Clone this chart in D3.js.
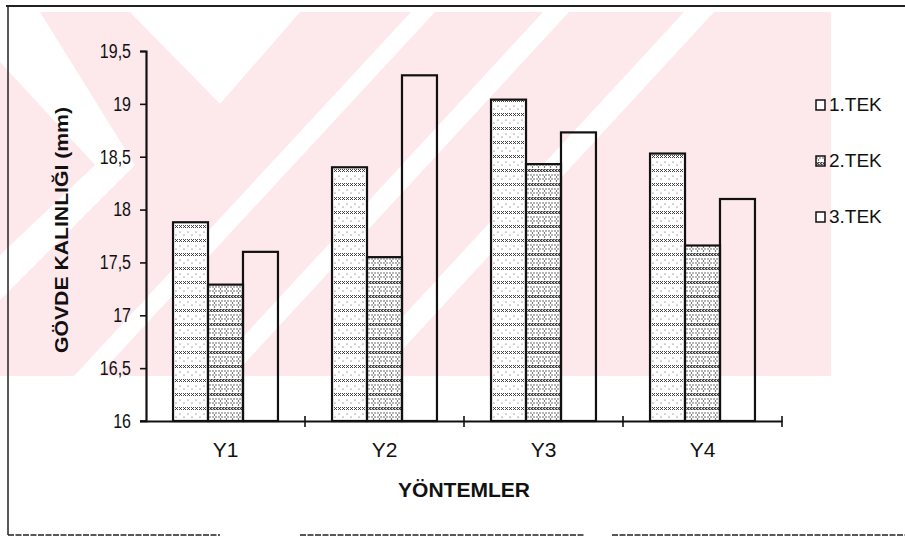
<!DOCTYPE html>
<html>
<head>
<meta charset="utf-8">
<script src="https://cdn.jsdelivr.net/npm/d3@7"></script>
<style>
  html, body { margin: 0; padding: 0; background: #fff; }
  svg { display: block; }
  text { font-family: "Liberation Sans", Arial, sans-serif; fill: #111; }
  .bold { font-weight: bold; }
</style>
</head>
<body>
<svg id="chart" width="905" height="542"></svg>
<script>
// Methods (x categories) and the three techniques (series)
const categories = ["Y1", "Y2", "Y3", "Y4"];
const seriesNames = ["1.TEK", "2.TEK", "3.TEK"];
const tek1 = [17.88, 18.40, 19.04, 18.53];
const tek2 = [17.29, 17.55, 18.43, 17.66];
const tek3 = [17.60, 19.27, 18.73, 18.10];
const yTicks = [16, 16.5, 17, 17.5, 18, 18.5, 19, 19.5];
const yDomain = [16, 19.5];
const yTitle = "GÖVDE KALINLIĞI (mm)";
const xTitle = "YÖNTEMLER";

const seriesValues = [tek1, tek2, tek3];
const rows = categories.map((c, i) => ({
  cat: c,
  vals: seriesNames.map((s, j) => ({ key: s, value: seriesValues[j][i] }))
}));

const svg = d3.select("#chart");
const plot = { left: 146, right: 782, top: 51, bottom: 421 };
const defs = svg.append("defs");

// ---- pale background emblem band ----
defs.append("clipPath").attr("id", "wmclip")
  .append("rect").attr("x", 0).attr("y", 12).attr("width", 831).attr("height", 364);
const wmg = svg.append("g").attr("clip-path", "url(#wmclip)");
wmg.append("rect").attr("x", 0).attr("y", 12).attr("width", 831).attr("height", 364)
  .attr("fill", "#fde8ec");
const whiteShapes = [
  [[0,12],[40,12],[135,165],[0,300],[0,255],[95,165],[0,62]],
  [[130,12],[300,12],[220,104]],
  [[411,12],[435,12],[98,376],[74,376]],
  [[543,12],[569,12],[233,376],[207,376]],
  [[684,12],[714,12],[378,376],[348,376]]
];
wmg.selectAll("polygon").data(whiteShapes).join("polygon")
  .attr("points", d => d.map(p => p.join(",")).join(" "))
  .attr("fill", "#ffffff");

// ---- frame ----
const frame = svg.append("g").attr("stroke", "#222").attr("fill", "none");
frame.append("line").attr("x1", 6).attr("x2", 905).attr("y1", 6).attr("y2", 6).attr("stroke-width", 2);
frame.append("line").attr("x1", 8).attr("x2", 8).attr("y1", 6).attr("y2", 535).attr("stroke-width", 1.5);
[[8, 220], [300, 584], [612, 905]].forEach(([a, b]) =>
  frame.append("line").attr("x1", a).attr("x2", b).attr("y1", 535).attr("y2", 535)
    .attr("stroke-width", 1.5).attr("stroke-dasharray", "6,1.5"));

// ---- fill patterns ----
const p1 = defs.append("pattern").attr("id", "pat1").attr("patternUnits", "userSpaceOnUse")
  .attr("width", 8).attr("height", 14);
p1.append("rect").attr("width", 8).attr("height", 14).attr("fill", "#fff");
p1.append("path").attr("d", "M1,1 L4,4 M4,1 L1,4 M5,1 L8,4 M8,1 L5,4")
  .attr("stroke", "#333").attr("stroke-width", 0.9);
p1.append("circle").attr("cx", 2).attr("cy", 8).attr("r", 0.6).attr("fill", "#444");
p1.append("circle").attr("cx", 6).attr("cy", 11).attr("r", 0.6).attr("fill", "#444");

const p2 = defs.append("pattern").attr("id", "pat2").attr("patternUnits", "userSpaceOnUse")
  .attr("width", 6).attr("height", 14);
p2.append("rect").attr("width", 6).attr("height", 14).attr("fill", "#fff");
p2.append("path").attr("d", "M0.5,1 L3,4 M3,1 L0.5,4 M3.5,1 L6,4 M6,1 L3.5,4")
  .attr("stroke", "#222").attr("stroke-width", 1);
[[1,7],[4,7],[2.5,9],[1,11],[4,11],[2.5,13]].forEach(([cx, cy]) =>
  p2.append("circle").attr("cx", cx).attr("cy", cy).attr("r", 0.7).attr("fill", "#333"));

const fills = { "1.TEK": "url(#pat1)", "2.TEK": "url(#pat2)", "3.TEK": "none" };

// ---- scales ----
const x0 = d3.scaleBand().domain(categories).range([plot.left, plot.right]);
const bw = x0.bandwidth();
const x1 = d3.scaleBand().domain(seriesNames).range([bw * 0.17, bw * 0.83]);
const y = d3.scaleLinear().domain(yDomain).range([plot.bottom, plot.top]);

// ---- bars ----
const groups = svg.append("g").selectAll("g").data(rows).join("g")
  .attr("transform", d => `translate(${x0(d.cat)},0)`);
groups.selectAll("rect").data(d => d.vals).join("rect")
  .attr("x", d => x1(d.key))
  .attr("width", x1.bandwidth())
  .attr("y", d => y(d.value))
  .attr("height", d => y(yDomain[0]) - y(d.value))
  .attr("fill", d => fills[d.key])
  .attr("stroke", "#111")
  .attr("stroke-width", 2.2);

// ---- y axis ----
const comma = d3.formatLocale({ decimal: ",", thousands: ".", grouping: [3], currency: ["", ""] });
const yAxis = d3.axisLeft(y).tickValues(yTicks).tickFormat(comma.format("~g")).tickSize(6).tickPadding(0);
const gy = svg.append("g").attr("transform", `translate(${plot.left},0)`).call(yAxis);
gy.select(".domain").attr("stroke", "#111").attr("stroke-width", 2.2);
gy.selectAll(".tick line").attr("stroke", "#111").attr("stroke-width", 1.6);
gy.selectAll(".tick text")
  .attr("x", 0)
  .attr("transform", "translate(-15,0) scale(0.8,1)")
  .style("font-size", "20px").attr("fill", "#111");

// ---- x axis: labels at band centres, ticks at band edges ----
const xAxis = d3.axisBottom(x0).tickSize(0).tickPadding(21);
const gx = svg.append("g").attr("transform", `translate(0,${plot.bottom})`).call(xAxis);
gx.select(".domain").attr("stroke", "#111").attr("stroke-width", 2.2);
gx.selectAll(".tick text").style("font-size", "21px").attr("fill", "#111");
gx.selectAll("line.edge").data(categories).join("line").attr("class", "edge")
  .attr("x1", d => x0(d) + bw).attr("x2", d => x0(d) + bw)
  .attr("y1", -5).attr("y2", 6)
  .attr("stroke", "#111").attr("stroke-width", 1.6);
gx.append("line").attr("x1", plot.left - 6).attr("x2", plot.left).attr("y1", 0).attr("y2", 0)
  .attr("stroke", "#111").attr("stroke-width", 1.6);

// ---- axis titles ----
svg.append("text").attr("class", "bold")
  .attr("transform", `translate(63,${(plot.top + plot.bottom) / 2 - 6}) rotate(-90)`)
  .attr("text-anchor", "middle").attr("dominant-baseline", "middle")
  .attr("textLength", 246).attr("lengthAdjust", "spacingAndGlyphs")
  .style("font-size", "19px").text(yTitle);
svg.append("text").attr("class", "bold")
  .attr("x", (plot.left + plot.right) / 2).attr("y", 497)
  .attr("text-anchor", "middle")
  .attr("textLength", 132).attr("lengthAdjust", "spacingAndGlyphs")
  .style("font-size", "20px").text(xTitle);

// ---- legend ----
const legend = svg.append("g").selectAll("g").data(seriesNames).join("g")
  .attr("transform", (d, i) => `translate(816,${105 + i * 56})`);
legend.append("rect").attr("x", 0).attr("y", -5).attr("width", 9).attr("height", 10)
  .attr("fill", d => d === "2.TEK" ? "url(#pat2)" : "#fff")
  .attr("stroke", "#111").attr("stroke-width", 1.5);
legend.append("text").attr("x", 13).attr("y", 1).attr("dominant-baseline", "middle")
  .style("font-size", "19px").text(d => d);
</script>
</body>
</html>
